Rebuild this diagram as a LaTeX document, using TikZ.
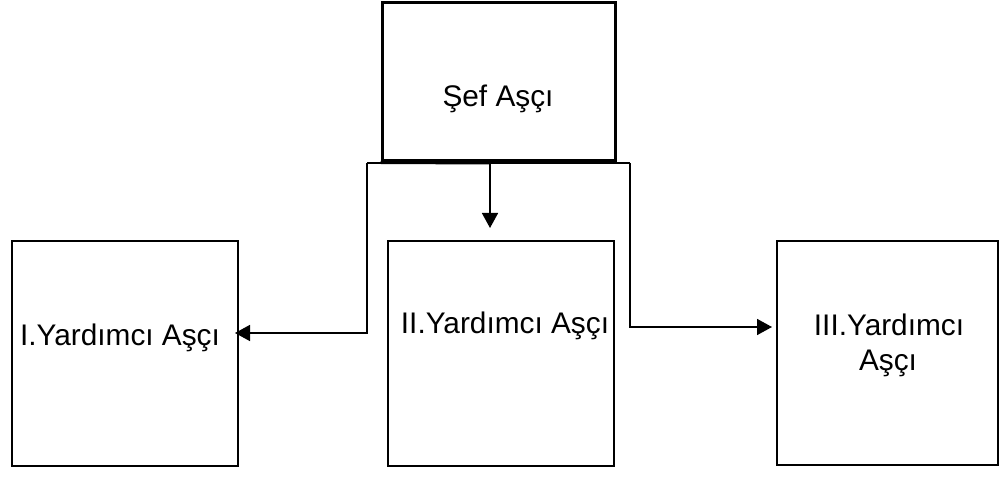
\documentclass[tikz,border=0pt]{standalone}
\usepackage{fontspec}
\setmainfont{Liberation Sans}
\usetikzlibrary{arrows.meta}
\begin{document}
\begin{tikzpicture}[x=1pt,y=-1pt,
  box/.style={draw, line width=2.5pt, rectangle, inner sep=0pt},
  lbl/.style={anchor=base, inner sep=0pt, font=\fontsize{29.8}{35}\selectfont},
  conn/.style={line width=1.6pt},
  arr/.style={conn, -{Triangle[length=15pt,width=16pt]}}]
\useasboundingbox (0,0) rectangle (1000,478);
\fill[white] (0,0) rectangle (1000,478);
% boxes
\node[box, line width=3pt, minimum width=233pt, minimum height=158pt] (chef) at (498.5,82) {};
\node[box, minimum width=226pt, minimum height=225pt] (b1) at (125,353.5) {};
\node[box, minimum width=226pt, minimum height=225pt] (b2) at (501,353.5) {};
\node[box, minimum width=221pt, minimum height=224pt] (b3) at (887.5,353) {};
% labels
\node[lbl] (t0) at (498,107) {Şef Aşçı};
\node[lbl] (t1) at (120,345) {I.Yardımcı Aşçı};
\node[lbl] (t2) at (505,333) {II.Yardımcı Aşçı};
\node[lbl] (t3a) at (889,335) {III.Yardımcı};
\node[lbl] (t3b) at (888,370) {Aşçı};
% connector points
\coordinate (jl) at (367,163);
\coordinate (jr) at (630,163);
\coordinate (jm) at (490,163);
\coordinate (l1) at (367,333);
\coordinate (t1tip) at (235,333);
\coordinate (t2tip) at (490,228);
\coordinate (r1) at (630,327);
\coordinate (t3tip) at (772,327);
% connectors
\draw[conn] (jl) -- (jr);
\draw[line width=3pt] (chef.south west) -- (jm);
\draw[arr] (jl) -- (l1) -- (t1tip);
\draw[arr] (jm) -- (t2tip);
\draw[arr] (jr) -- (r1) -- (t3tip);
\end{tikzpicture}
\end{document}
